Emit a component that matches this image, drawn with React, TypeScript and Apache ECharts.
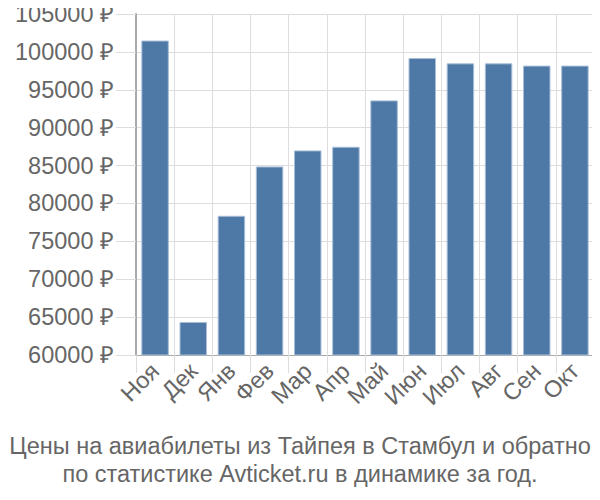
import React, { useEffect, useRef } from "react";
import * as echarts from "echarts";

const categories = ["Ноя", "Дек", "Янв", "Фев", "Мар", "Апр", "Май", "Июн", "Июл", "Авг", "Сен", "Окт"];
const prices = [101500, 64360, 78370, 84880, 87000, 87480, 93600, 99190, 98490, 98490, 98190, 98190];
const titleLines = [
  "Цены на авиабилеты из Тайпея в Стамбул и обратно",
  "по статистике Avticket.ru в динамике за год.",
];

export default function App() {
  const ref = useRef<HTMLDivElement>(null);
  useEffect(() => {
    const chart = echarts.init(ref.current!, null, { renderer: "svg" });
    const font = "'Liberation Sans', Arial, sans-serif";
    chart.setOption({
      animation: false,
      grid: { left: 136, right: 6, top: 14, bottom: 145, containLabel: false },
      xAxis: {
        type: "category",
        data: categories,
        axisLine: { show: true, lineStyle: { color: "#aaaaaa", width: 1 } },
        axisTick: { show: true, length: 18, lineStyle: { color: "#dddddd", width: 1 } },
        splitLine: { show: true, lineStyle: { color: "#dddddd", width: 1 } },
        axisLabel: {
          rotate: 45,
          fontSize: 23.5,
          color: "#666666",
          fontFamily: font,
          margin: 12,
          interval: 0,
        },
      },
      yAxis: {
        type: "value",
        min: 60000,
        max: 105000,
        interval: 5000,
        axisLine: { show: true, lineStyle: { color: "#aaaaaa", width: 2 } },
        axisTick: { show: true, length: 20, lineStyle: { color: "#dddddd", width: 1 } },
        splitLine: { show: true, lineStyle: { color: "#dddddd", width: 1 } },
        axisLabel: {
          fontSize: 23.5,
          color: "#666666",
          fontFamily: font,
          margin: 22,
          formatter: (v: number) => v + " ₽",
        },
      },
      series: [
        {
          type: "bar",
          data: prices,
          barCategoryGap: "28%",
          itemStyle: { color: "#4e78a6", borderColor: "#a9bfd8", borderWidth: 1 },
        },
      ],
      graphic: titleLines.map((t, i) => ({
        type: "text",
        left: "center",
        top: 434 + i * 28,
        style: { text: t, fontSize: 23.5, fill: "#666666", fontFamily: font },
      })),
    });
    return () => chart.dispose();
  }, []);
  return <div ref={ref} style={{ width: 600, height: 500, marginLeft: -8, marginTop: -8 }} />;
}
